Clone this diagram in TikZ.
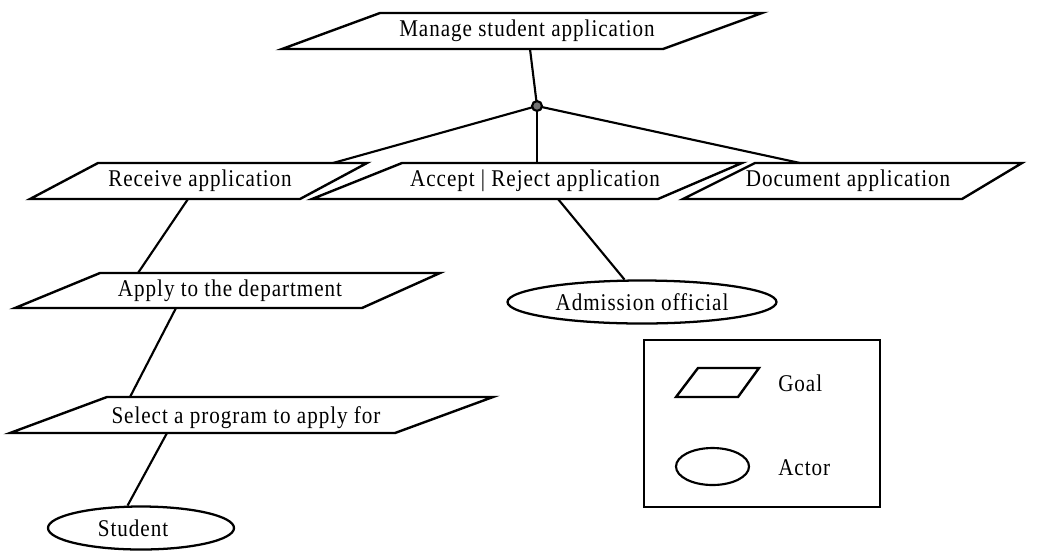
\documentclass[tikz,border=0pt]{standalone}
\usepackage{fontspec}
\setmainfont{Liberation Serif}[FakeStretch=0.88,LetterSpace=4]
\usetikzlibrary{shapes.geometric}
\begin{document}
\begin{tikzpicture}[x=0.75pt,y=-0.75pt,
  goal/.style={draw, line width=1.8pt, line join=miter},
  lbl/.style={inner sep=0pt, font=\fontsize{18}{21}\selectfont},
  actor/.style={draw, ellipse, line width=1.7pt, inner sep=0pt, font=\fontsize{18}{21}\selectfont},
  link/.style={line width=1.6pt}]
\useasboundingbox (0,0) rectangle (1062,551);
% goal shapes
\draw[goal] (380,13) -- (762,13) -- (663,49) -- (282,49) -- cycle;
\draw[goal] (98,163) -- (367,163) -- (300,199) -- (30,199) -- cycle;
\draw[goal] (402,163) -- (742,163) -- (658,199) -- (312,199) -- cycle;
\draw[goal] (755,163) -- (1022,163) -- (962,199) -- (683,199) -- cycle;
\draw[goal] (100,273) -- (440,273) -- (362,308) -- (15,308) -- cycle;
\draw[goal] (107,397) -- (493,397) -- (395,433) -- (10,433) -- cycle;
% goal labels
\node[lbl] (manage) at (527,31) {Manage student application};
\node[lbl] (receive) at (200,181) {Receive application};
\node[lbl] (accept) at (535,181) {Accept | Reject application};
\node[lbl] (document) at (848,181) {Document application};
\node[lbl] (apply) at (230,291) {Apply to the department};
\node[lbl] (select) at (246,418) {Select a program to apply for};
% actors
\node[actor, minimum width=269*0.75pt, minimum height=43*0.75pt] (admission) at (642,302) {Admission official};
\node[actor, minimum width=186*0.75pt, minimum height=43*0.75pt] (student) at (141,528) {\hspace*{-12pt}Student};
% connector anchor points
\coordinate (manageB) at (530,49);
\coordinate (receiveT) at (333,163);
\coordinate (acceptT) at (537,163);
\coordinate (documentT) at (800,163);
\coordinate (receiveB) at (188,199);
\coordinate (applyT) at (138,273);
\coordinate (applyB) at (176,308);
\coordinate (selectT) at (130,397);
\coordinate (selectB) at (167,433);
\coordinate (acceptB) at (558,199);
% connectors
\node[circle, inner sep=0pt, minimum size=7.5pt] (dot) at (537,106) {};
\draw[link] (manageB) -- (dot.center);
\draw[link] (dot.center) -- (receiveT);
\draw[link] (dot.center) -- (acceptT);
\draw[link] (dot.center) -- (documentT);
\draw[link] (receiveB) -- (applyT);
\draw[link] (applyB) -- (selectT);
\draw[link] (selectB) -- (student.121);
\draw[link] (acceptB) -- (admission.128);
\fill[black!55, draw=black, line width=1.6pt] (dot) circle (3.7pt);
% legend
\draw[line width=1.6pt] (644,340) rectangle (880,507);
\draw[goal] (698,368) -- (759,368) -- (738,397) -- (676,397) -- cycle;
\node[lbl, anchor=west] (goallbl) at (778,383) {Goal};
\draw[line width=1.6pt] (712.5,466.5) ellipse (36.5*0.75pt and 18.5*0.75pt);
\node[lbl, anchor=west] (actorlbl) at (778,468) {Actor};
\end{tikzpicture}
\end{document}
